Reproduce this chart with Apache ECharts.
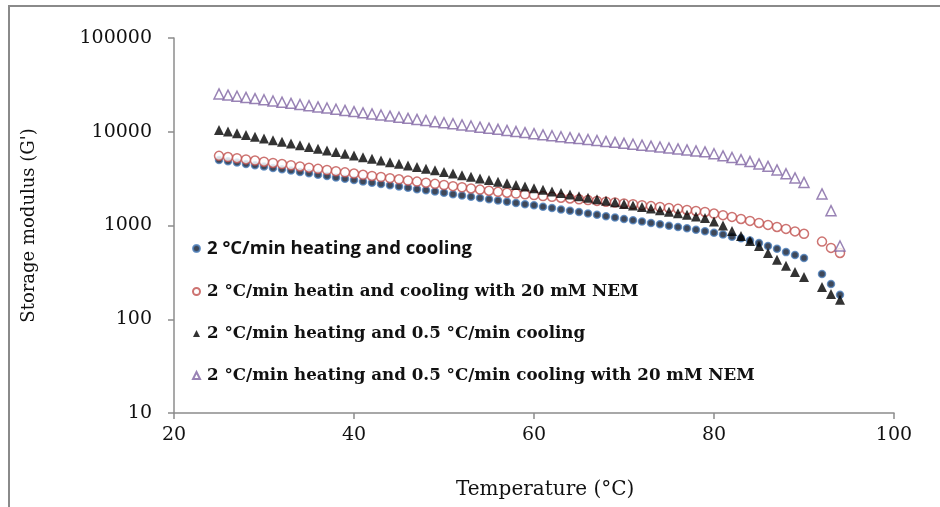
<!DOCTYPE html>
<html>
<head>
<meta charset="utf-8">
<script src="https://cdn.jsdelivr.net/npm/echarts@6/dist/echarts.min.js"></script>
<style>
  html, body { margin: 0; padding: 0; background: #ffffff; }
  #chart { width: 940px; height: 507px; }
</style>
</head>
<body>
<div id="chart"></div>
<script>
// Temperature steps (°C) shared by all four runs
const temperatures = [
  25, 26, 27, 28, 29, 30, 31, 32, 33, 34, 35, 36, 37, 38, 39, 40, 41, 42,
  43, 44, 45, 46, 47, 48, 49, 50, 51, 52, 53, 54, 55, 56, 57, 58, 59, 60, 61,
  62, 63, 64, 65, 66, 67, 68, 69, 70, 71, 72, 73, 74, 75, 76, 77, 78, 79,
  80, 81, 82, 83, 84, 85, 86, 87, 88, 89, 90, 92, 93, 94
];

// Storage modulus G' for each run
const heatCool = [
  5010, 4850, 4690, 4540, 4390, 4250, 4110, 3970, 3850, 3720, 3600, 3480, 3370, 3260, 3150, 3050, 2950, 2850,
  2770, 2680, 2600, 2520, 2440, 2370, 2300, 2230, 2160, 2090, 2030, 1970, 1910, 1850, 1795, 1740, 1690, 1640, 1585,
  1535, 1485, 1435, 1390, 1345, 1300, 1255, 1215, 1175, 1140, 1100, 1065, 1030, 995, 965, 935, 900, 870,
  835, 800, 760, 730, 690, 650, 605, 565, 520, 485, 450, 303, 238, 182
];
const heatCoolNEM = [
  5530, 5370, 5220, 5070, 4930, 4790, 4650, 4520, 4390, 4265, 4140, 4020, 3910, 3795, 3690, 3580, 3475, 3380,
  3290, 3200, 3110, 3020, 2940, 2860, 2780, 2705, 2630, 2560, 2485, 2415, 2350, 2285, 2240, 2195, 2150, 2110, 2065,
  2025, 1980, 1945, 1905, 1865, 1830, 1795, 1760, 1720, 1685, 1645, 1610, 1575, 1540, 1505, 1465, 1430, 1395,
  1340, 1290, 1235, 1175, 1120, 1065, 1015, 965, 920, 865, 815, 673, 577, 510
];
const slowCool = [
  10470, 10040, 9620, 9230, 8850, 8490, 8130, 7800, 7480, 7180, 6870, 6590, 6320, 6070, 5810, 5570, 5350, 5140,
  4930, 4740, 4550, 4375, 4205, 4040, 3880, 3725, 3580, 3440, 3305, 3175, 3050, 2930, 2820, 2705, 2600, 2495, 2400,
  2310, 2220, 2140, 2055, 1980, 1905, 1835, 1765, 1700, 1635, 1575, 1515, 1455, 1400, 1350, 1300, 1250, 1205,
  1105, 1003, 875, 774, 685, 606, 510, 430, 371, 320, 283, 221, 186, 161
];
const slowCoolNEM = [
  25350, 24600, 23930, 23230, 22590, 21930, 21280, 20700, 20090, 19540, 18970, 18410, 17910, 17380, 16900, 16410, 15920, 15490,
  15100, 14690, 14290, 13900, 13550, 13180, 12820, 12470, 12160, 11830, 11510, 11190, 10910, 10620, 10330, 10050, 9795, 9530, 9270,
  9060, 8850, 8650, 8450, 8260, 8070, 7890, 7710, 7530, 7360, 7190, 7030, 6870, 6710, 6560, 6400, 6250, 6110,
  5820, 5530, 5310, 5050, 4810, 4540, 4280, 3920, 3560, 3220, 2880, 2170, 1440, 605
];

const seriesNames = [
  '2 °C/min heating and cooling',
  '2 °C/min heatin and cooling with 20 mM NEM',
  '2 °C/min heating and 0.5 °C/min cooling',
  '2 °C/min heating and 0.5 °C/min cooling with 20 mM NEM'
];

const xTicks = [20, 40, 60, 80, 100];
const yTicks = [10, 100, 1000, 10000, 100000];

const pairs = vals => temperatures.map((t, i) => [t, vals[i]]);

const axisGrey = '#8c8c8c';
const serif = 'DejaVu Serif';

const chart = echarts.init(document.getElementById('chart'), null, { renderer: 'canvas' });

chart.setOption({
  backgroundColor: '#ffffff',
  animation: false,
  grid: { left: 174, right: 46, top: 38, bottom: 94 },
  xAxis: {
    type: 'value',
    min: xTicks[0],
    max: xTicks[xTicks.length - 1],
    interval: 20,
    splitLine: { show: false },
    axisLine: { lineStyle: { color: axisGrey, width: 1.5 } },
    axisTick: { length: 6, lineStyle: { color: axisGrey, width: 1.5 } },
    axisLabel: { color: '#111', fontFamily: serif, fontSize: 19, margin: 13 }
  },
  yAxis: {
    type: 'log',
    logBase: 10,
    min: yTicks[0],
    max: yTicks[yTicks.length - 1],
    splitLine: { show: false },
    minorTick: { show: false },
    axisLine: { show: true, lineStyle: { color: axisGrey, width: 1.5 } },
    axisTick: { show: true, length: 6, lineStyle: { color: axisGrey, width: 1.5 } },
    axisLabel: {
      color: '#111', fontFamily: serif, fontSize: 19, margin: 22,
      formatter: v => String(Math.round(v))
    },
    name: "Storage modulus (G')",
    nameLocation: 'middle',
    nameRotate: 90,
    nameGap: 136,
    nameTextStyle: { color: '#111', fontFamily: serif, fontSize: 18 }
  },
  legend: {
    orient: 'vertical',
    left: 187,
    top: 234,
    itemWidth: 7,
    itemHeight: 7,
    itemGap: 25,
    data: seriesNames,
    formatter: name => (name === seriesNames[0] ? '{s|' + name + '}' : '{b|' + name + '}'),
    textStyle: {
      rich: {
        s: { fontFamily: 'Open Sans', fontWeight: 'bold', fontSize: 18.5, color: '#111', padding: [0, 0, 0, 2] },
        b: { fontFamily: serif, fontWeight: 'bold', fontSize: 16.7, color: '#111', padding: [0, 0, 0, 2] }
      }
    }
  },
  series: [
    {
      name: seriesNames[0],
      type: 'scatter',
      symbol: 'circle',
      symbolSize: 7,
      itemStyle: { color: '#0f1a2e', borderColor: '#4f81bd', borderWidth: 1.5 },
      data: pairs(heatCool)
    },
    {
      name: seriesNames[1],
      type: 'scatter',
      symbol: 'circle',
      symbolSize: 9,
      itemStyle: { color: '#ffffff', borderColor: '#c0504d', borderWidth: 1.5 },
      data: pairs(heatCoolNEM)
    },
    {
      name: seriesNames[2],
      type: 'scatter',
      symbol: 'triangle',
      symbolSize: 10,
      itemStyle: { color: '#000000' },
      data: pairs(slowCool)
    },
    {
      name: seriesNames[3],
      type: 'scatter',
      symbol: 'triangle',
      symbolSize: 10,
      itemStyle: { color: '#ffffff', borderColor: '#8064a2', borderWidth: 1.5 },
      data: pairs(slowCoolNEM)
    }
  ],
  graphic: [
    {
      type: 'rect',
      silent: true,
      shape: { x: 9, y: 6, width: 960, height: 540 },
      style: { fill: 'none', stroke: '#8a8a8a', lineWidth: 2 }
    },
    {
      type: 'text',
      silent: true,
      left: 456,
      top: 480,
      style: { text: 'Temperature (°C)', fill: '#111', font: '20px "DejaVu Serif"' }
    }
  ]
});
</script>
</body>
</html>
